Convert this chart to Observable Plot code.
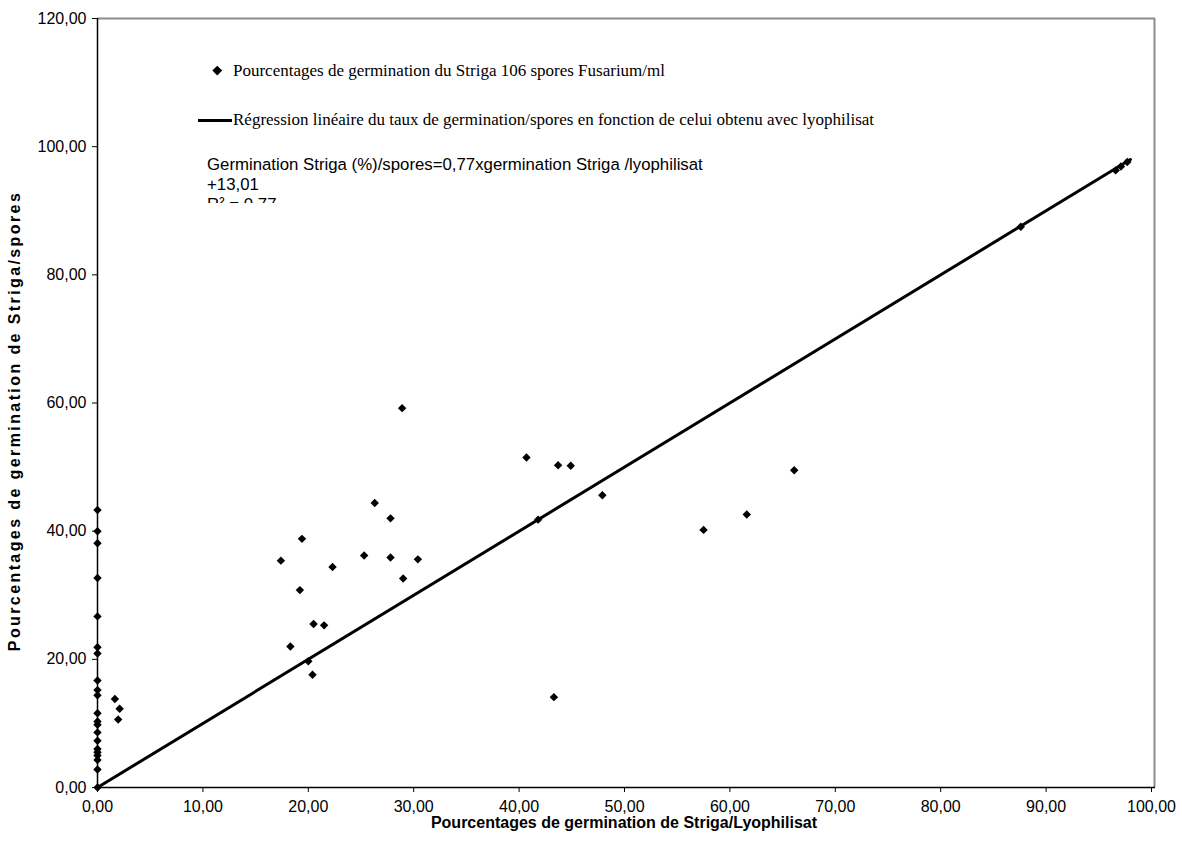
<!DOCTYPE html>
<html>
<head>
<meta charset="utf-8">
<script src="https://cdn.jsdelivr.net/npm/d3@7"></script>
<script src="https://cdn.jsdelivr.net/npm/@observablehq/plot@0.6"></script>
<style>
  html, body { margin: 0; padding: 0; background: #fff; }
  #wrap { position: relative; width: 1182px; height: 861px; overflow: hidden; font-family: "Liberation Sans", Arial, sans-serif; }
  .abs { position: absolute; white-space: nowrap; color: #000; }
  .serif { font-family: "Liberation Serif", "Times New Roman", serif; font-size: 17px; }
  .eq { font-family: "Liberation Sans", Arial, sans-serif; font-size: 16.8px; white-space: nowrap; color: #000; }
  .title { font-weight: bold; font-size: 16px; }
</style>
</head>
<body>
<div id="wrap"></div>
<script>
// Data
const lyophilisat = [
  0, 0, 0, 0, 0, 0, 0, 0, 0, 0, 0, 0, 0, 0, 0, 0, 0, 0, 0, 0, 0,
  1.65, 2.1, 1.96,
  28.9, 40.7, 43.7, 44.9, 47.9, 41.8, 26.3, 27.8, 19.4, 17.4, 22.3, 25.3, 27.8, 30.4, 29.0, 19.2, 20.5, 21.5, 18.3, 20.0, 20.4, 43.3,
  66.1, 61.6, 57.5,
  87.6, 96.6, 97.1, 97.7
];
const spores = [
  43.3, 40.0, 38.1, 32.7, 26.7, 21.9, 20.9, 16.7, 15.2, 14.4, 11.6, 10.3, 9.8, 8.6, 7.3, 6.0, 5.5, 5.0, 4.3, 2.8, 0.0,
  13.8, 12.3, 10.6,
  59.2, 51.5, 50.3, 50.2, 45.6, 41.8, 44.4, 42.0, 38.8, 35.4, 34.4, 36.2, 35.9, 35.6, 32.6, 30.8, 25.5, 25.3, 22.0, 19.7, 17.6, 14.1,
  49.5, 42.6, 40.2,
  87.5, 96.3, 96.9, 97.6
];
const regressionX = [0, 98];
const regressionY = [0, 98];
const xTicks = [0, 10, 20, 30, 40, 50, 60, 70, 80, 90, 100];
const yTicks = [0, 20, 40, 60, 80, 100, 120];

const fmt = d => d3.format(".2f")(d).replace(".", ",");
const points = lyophilisat.map((x, i) => ({x, y: spores[i]}));
const reg = regressionX.map((x, i) => ({x, y: regressionY[i]}));

const chart = Plot.plot({
  width: 1182,
  height: 861,
  marginLeft: 97,
  marginRight: 31,
  marginTop: 18,
  marginBottom: 74,
  style: {fontFamily: "'Liberation Sans', Arial, sans-serif", fontSize: "16px", color: "#000", background: "#fff", overflow: "visible"},
  x: {domain: [0, 100]},
  y: {domain: [0, 120]},
  marks: [
    Plot.ruleY([120], {stroke: "#8c8c8c", strokeWidth: 2, x1: 0, x2: 100, insetRight: -4}),
    Plot.ruleX([100], {stroke: "#8c8c8c", strokeWidth: 2, dx: 3, y1: 0, y2: 120}),
    Plot.axisX({ticks: xTicks, tickFormat: fmt, tickSize: 5, tickPadding: 8, label: null, fontSize: 16, stroke: "#000"}),
    Plot.axisY({ticks: yTicks, tickFormat: fmt, tickSize: 5, tickPadding: 6, label: null, fontSize: 16, stroke: "#000"}),
    Plot.ruleX([0], {stroke: "#000", strokeWidth: 1.5}),
    Plot.ruleY([0], {stroke: "#000", strokeWidth: 1.5, insetRight: -4}),
    Plot.line(reg, {x: "x", y: "y", stroke: "#000", strokeWidth: 3}),
    Plot.dot(points, {x: "x", y: "y", symbol: "diamond2", r: 3.8, fill: "#000", stroke: "none"})
  ]
});

const wrap = document.getElementById("wrap");
wrap.appendChild(chart);

function addDiv(html, cls, left, top, extra) {
  const d = document.createElement("div");
  d.className = "abs " + cls;
  d.innerHTML = html;
  d.style.left = left + "px";
  d.style.top = top + "px";
  if (extra) Object.assign(d.style, extra);
  wrap.appendChild(d);
  return d;
}

// Legend
const dia = document.createElement("div");
Object.assign(dia.style, {position: "absolute", left: "214px", top: "67px", width: "6.5px", height: "6.5px", background: "#000", transform: "rotate(45deg)"});
wrap.appendChild(dia);
addDiv("Pourcentages de germination du Striga 106 spores Fusarium/ml", "serif", 233, 71, {transform: "translateY(-50%)"});
const ln = document.createElement("div");
Object.assign(ln.style, {position: "absolute", left: "198px", top: "119px", width: "34px", height: "3px", background: "#000"});
wrap.appendChild(ln);
addDiv("Régression linéaire du taux de germination/spores en fonction de celui obtenu avec lyophilisat", "serif", 233, 120, {transform: "translateY(-50%)"});

// Equation box (third line clipped like the reference)
const eqBox = document.createElement("div");
Object.assign(eqBox.style, {position: "absolute", left: "207px", top: "155px", height: "48px", overflow: "hidden", lineHeight: "20px"});
eqBox.className = "eq";
eqBox.innerHTML = "Germination Striga (%)/spores=0,77xgermination Striga /lyophilisat<br>+13,01<br>R² = 0,77";
wrap.appendChild(eqBox);

// Axis titles
addDiv("Pourcentages de germination de Striga/Lyophilisat", "title", 624, 823, {transform: "translate(-50%,-50%)"});
addDiv("Pourcentages de germination de Striga/spores", "title", 15, 421, {transform: "translate(-50%,-50%) rotate(-90deg)", letterSpacing: "2.4px"});
</script>
</body>
</html>
